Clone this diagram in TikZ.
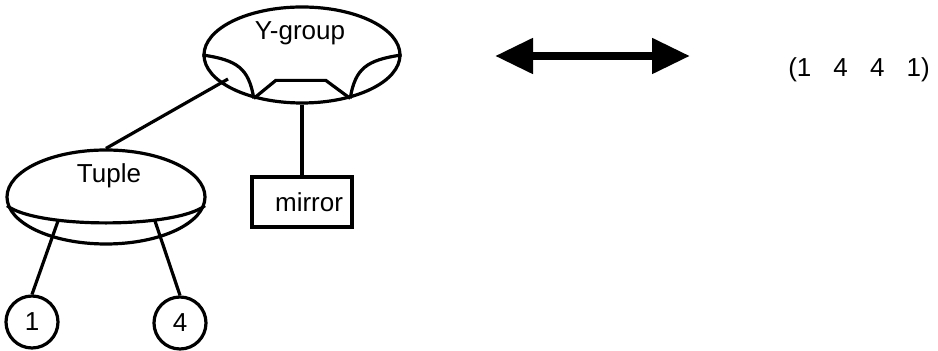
\documentclass[tikz,border=0pt]{standalone}
\usepackage{fontspec}
\setmainfont{Liberation Sans}
\usetikzlibrary{arrows.meta,shapes,positioning}

\begin{document}
\begin{tikzpicture}
[x=.5pt,y=-.5pt,
font=\fontsize{13}{15}\selectfont,
%
blob/.style={shape=ellipse,draw=black,line width=1.6pt,inner sep=0pt},
leaf/.style={shape=circle,draw=black,line width=1.6pt,inner sep=0pt,minimum size=26pt},
part/.style={shape=rectangle,draw=black,line width=1.6pt,inner sep=0pt},
%
link/.style={draw,line width=1.6pt},
dbl/.style={line width=4pt,{Triangle[length=19pt,width=17pt]}-{Triangle[length=19pt,width=17pt]}}]
%
\useasboundingbox (0,0) rectangle (938,351);
%
% Y-group
\node (ygroup) [blob,minimum width=98pt,minimum height=48pt] at (302,55) {};
\node (ygroupLbl) [anchor=base] at (300,40) {Y-group};
\draw[link] (ygroup.west) .. controls +(35,5) and +(-5,-30) .. (ygroup.-138);
\draw[link] (ygroup.east) .. controls +(-35,5) and +(5,-30) .. (ygroup.-42);
\draw[link] (ygroup.-138) -- ++(22,-18) -- ++(50,0) -- (ygroup.-42);
\coordinate (ylobe) at (228,79);
%%
% Tuple
\node (tuple) [blob,minimum width=99pt,minimum height=47pt] at (106,197) {};
\node (tupleLbl) [anchor=base] at (109,183) {Tuple};
\draw[link] (tuple.185) .. controls +(30,23) and +(-30,23) .. (tuple.-5);
\coordinate (tupleL) at (58,221);
\coordinate (tupleR) at (155,221);
%%
% mirror
\node (mirror) [part,minimum width=50pt,minimum height=25pt,text width=41pt,
   align=right,inner xsep=4.5pt] at (302,202) {mirror};
%%
% leaves
\node (c1) [leaf] at (32,322) {1};
\node (c4) [leaf] at (180,323) {4};
%%
% edges
\draw[link] (tuple.north) -- (ylobe);
\draw[link] (ygroup.south) -- (mirror.north);
\draw[link] (tupleL) -- (c1.north);
\draw[link] (tupleR) -- (c4.north);
%%
% equivalence
\coordinate (arrL) at (495,56);
\coordinate (arrR) at (690,56);
\draw[dbl] (arrL) -- (arrR);
\node (seq) [anchor=base] at (859,77) {(1\hspace{.85em}4\hspace{.85em}4\hspace{.85em}1)};
\end{tikzpicture}
\end{document}
